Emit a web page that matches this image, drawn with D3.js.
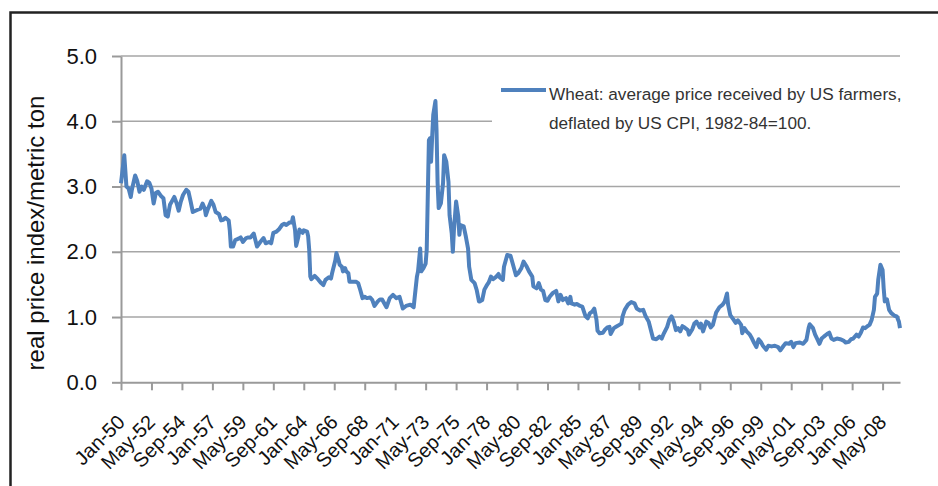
<!DOCTYPE html>
<html lang="en">

<head>
    <meta charset="utf-8">
    <title>Wheat: real price received by US farmers</title>
    <script type="text/javascript" src="https://cdn.jsdelivr.net/npm/d3@7"></script>
    <style type="text/css">
    body {
        margin: 0;
        background: #fff;
    }

    svg {
        display: block;
        font-family: "Liberation Sans", Arial, Helvetica, sans-serif;
    }

    .axis path,
    .axis line {
        stroke: #9a9a9a;
        stroke-width: 2;
    }

    .axis text {
        fill: #111;
    }

    .grid line {
        stroke: #a6a6a6;
        stroke-width: 1.5;
    }

    .legend text {
        font-size: 17.2px;
        fill: #333;
    }
    </style>
</head>

<body>
    <script type="text/javascript">
    //Width and height
    var w = 938,
        h = 486;

    //category labels, one every 28 months starting Jan-50
    var tickLabels = ['Jan-50', 'May-52', 'Sep-54', 'Jan-57', 'May-59', 'Sep-61', 'Jan-64',
        'May-66', 'Sep-68', 'Jan-71', 'May-73', 'Sep-75', 'Jan-78', 'May-80', 'Sep-82',
        'Jan-85', 'May-87', 'Sep-89', 'Jan-92', 'May-94', 'Sep-96', 'Jan-99', 'May-01',
        'Sep-03', 'Jan-06', 'May-08'
    ];
    var tickStep = 28;
    var lastMonth = 716; //Sep-09

    var yTicks = [0, 1, 2, 3, 4, 5];

    //months since Jan-50
    var months = [0, 3, 5, 7, 9, 10, 13, 15, 17, 19, 21, 24, 26, 28, 30, 32, 34, 37, 39, 41,
        43, 45, 47, 49, 51, 53, 55, 57, 60, 62, 64, 66, 70, 73, 75, 77, 78, 80, 83, 85,
        87, 90, 92, 94, 96, 99, 100, 101, 103, 105, 108, 110, 112, 115, 117, 119, 122, 125, 128, 131,
        133, 136, 138, 140, 143, 145, 148, 150, 152, 155, 157, 158, 160, 161, 163, 164, 167, 168, 171, 172,
        173, 174, 175, 178, 181, 184, 186, 188, 191, 193, 194, 197, 198, 200, 201, 203, 204, 206, 207, 209,
        210, 213, 216, 218, 220, 222, 224, 226, 229, 231, 233, 236, 238, 240, 244, 247, 250, 253, 256, 259,
        262, 266, 269, 270, 272, 273, 275, 276, 278, 280, 281, 283, 284, 285, 286, 287, 289, 290, 291, 292,
        294, 296, 297, 299, 301, 302, 304, 305, 306, 308, 310, 311, 312, 315, 317, 319, 320, 322, 325, 327,
        329, 330, 332, 334, 336, 338, 340, 342, 345, 347, 348, 351, 352, 355, 358, 360, 363, 365, 368, 370,
        373, 375, 378, 379, 382, 384, 386, 388, 390, 392, 394, 397, 400, 402, 404, 406, 409, 411, 413, 414,
        417, 419, 422, 424, 427, 429, 431, 433, 435, 437, 438, 440, 443, 445, 447, 449, 450, 453, 455, 458,
        460, 461, 463, 466, 469, 472, 474, 477, 480, 482, 485, 487, 489, 492, 495, 497, 499, 502, 504, 506,
        508, 510, 512, 514, 516, 518, 521, 522, 525, 527, 529, 532, 533, 535, 538, 540, 542, 544, 547, 550,
        553, 555, 557, 558, 560, 563, 565, 567, 570, 571, 573, 575, 578, 580, 582, 584, 586, 588, 590, 593,
        595, 598, 601, 604, 606, 609, 611, 614, 616, 618, 620, 624, 627, 630, 632, 633, 636, 638, 640, 642,
        644, 646, 649, 651, 653, 655, 658, 661, 664, 666, 669, 671, 673, 676, 678, 680, 682, 684, 686, 688,
        690, 692, 693, 695, 696, 698, 700, 701, 702, 704, 706, 708, 711, 713, 715, 716
    ];

    //real price index per metric ton
    var prices = [3.05, 3.48, 3.00, 2.97, 2.84, 2.95, 3.17, 3.08, 2.92, 3.00, 2.95, 3.08, 3.06, 2.97, 2.74, 2.90, 2.92, 2.85, 2.82, 2.56,
        2.54, 2.72, 2.78, 2.84, 2.75, 2.63, 2.77, 2.87, 2.95, 2.92, 2.77, 2.61, 2.64, 2.66, 2.74, 2.66, 2.56, 2.66, 2.78, 2.72,
        2.61, 2.58, 2.48, 2.49, 2.52, 2.48, 2.33, 2.08, 2.08, 2.18, 2.20, 2.22, 2.15, 2.21, 2.22, 2.22, 2.28, 2.08, 2.15, 2.21,
        2.13, 2.15, 2.13, 2.29, 2.31, 2.34, 2.41, 2.43, 2.41, 2.45, 2.45, 2.53, 2.33, 2.09, 2.23, 2.34, 2.29, 2.33, 2.31, 2.24,
        2.03, 1.62, 1.58, 1.63, 1.58, 1.52, 1.49, 1.57, 1.61, 1.59, 1.67, 1.87, 1.98, 1.87, 1.80, 1.77, 1.70, 1.75, 1.70, 1.67,
        1.54, 1.54, 1.54, 1.52, 1.41, 1.29, 1.31, 1.29, 1.30, 1.26, 1.17, 1.24, 1.27, 1.27, 1.15, 1.29, 1.34, 1.29, 1.31, 1.13,
        1.17, 1.19, 1.15, 1.31, 1.62, 1.70, 2.05, 1.70, 1.75, 1.82, 2.03, 3.71, 3.74, 3.38, 3.76, 4.10, 4.31, 3.87, 3.05, 2.67,
        2.74, 3.05, 3.48, 3.38, 3.07, 2.56, 2.28, 2.00, 2.33, 2.77, 2.54, 2.26, 2.41, 2.39, 2.23, 2.05, 1.77, 1.57, 1.52, 1.41,
        1.24, 1.24, 1.26, 1.42, 1.48, 1.53, 1.62, 1.58, 1.62, 1.66, 1.61, 1.57, 1.77, 1.95, 1.94, 1.82, 1.64, 1.67, 1.75, 1.85,
        1.77, 1.70, 1.62, 1.47, 1.44, 1.52, 1.42, 1.40, 1.26, 1.25, 1.31, 1.37, 1.40, 1.24, 1.34, 1.26, 1.29, 1.21, 1.31, 1.21,
        1.19, 1.20, 1.17, 1.16, 1.01, 0.98, 1.06, 1.08, 1.13, 0.96, 0.79, 0.75, 0.76, 0.81, 0.84, 0.85, 0.74, 0.83, 0.85, 0.88,
        0.90, 1.01, 1.11, 1.19, 1.23, 1.21, 1.13, 1.10, 1.11, 1.02, 0.93, 0.80, 0.67, 0.66, 0.70, 0.67, 0.75, 0.85, 0.96, 1.01,
        0.93, 0.80, 0.83, 0.78, 0.86, 0.84, 0.80, 0.73, 0.81, 0.90, 0.93, 0.84, 0.90, 0.78, 0.93, 0.91, 0.84, 0.88, 1.07, 1.15,
        1.19, 1.24, 1.36, 1.19, 1.03, 0.96, 0.91, 0.95, 0.88, 0.75, 0.83, 0.78, 0.73, 0.67, 0.60, 0.54, 0.66, 0.62, 0.56, 0.50,
        0.56, 0.55, 0.56, 0.54, 0.49, 0.56, 0.60, 0.59, 0.62, 0.54, 0.60, 0.61, 0.59, 0.65, 0.83, 0.89, 0.83, 0.73, 0.66, 0.59,
        0.67, 0.70, 0.74, 0.76, 0.67, 0.65, 0.67, 0.66, 0.64, 0.61, 0.62, 0.66, 0.67, 0.73, 0.70, 0.76, 0.84, 0.83, 0.86, 0.88,
        0.96, 1.11, 1.31, 1.36, 1.57, 1.80, 1.72, 1.44, 1.24, 1.27, 1.11, 1.06, 1.02, 1.01, 0.93, 0.83
    ];

    var legendLines = ['Wheat: average price received by US farmers,',
        'deflated by US CPI, 1982-84=100.'
    ];
    var yTitle = 'real price index/metric ton';

    //plot area
    var plot = { left: 121, right: 900, top: 56, bottom: 382.3 };

    //scales
    var x = d3.scaleLinear()
        .domain([0, lastMonth])
        .range([plot.left, plot.right]);

    var y = d3.scaleLinear()
        .domain([0, 5])
        .range([plot.bottom, plot.top]);

    //create svg
    var svg = d3.select('body')
        .append('svg')
        .attr('width', w)
        .attr('height', h);

    //outer frame (runs off the right and bottom edges)
    svg.append('rect')
        .attr('x', 10.5)
        .attr('y', 12.5)
        .attr('width', 1000)
        .attr('height', 1000)
        .attr('fill', 'none')
        .attr('stroke', '#222')
        .attr('stroke-width', 2.5);

    //gridlines
    svg.append('g')
        .attr('class', 'grid')
        .selectAll('line')
        .data(yTicks.slice(1))
        .enter()
        .append('line')
        .attr('x1', plot.left)
        .attr('x2', plot.right)
        .attr('y1', function(d) { return y(d); })
        .attr('y2', function(d) { return y(d); });

    //y axis
    var yAxis = d3.axisLeft(y)
        .tickValues(yTicks)
        .tickFormat(d3.format('.1f'))
        .tickSize(9)
        .tickSizeOuter(0)
        .tickPadding(15);

    var gy = svg.append('g')
        .attr('class', 'axis')
        .attr('transform', 'translate(' + plot.left + ',0)')
        .call(yAxis);
    gy.selectAll('text')
        .style('font-size', '22px');

    //x axis, a tick every 28 months
    var xAxis = d3.axisBottom(x)
        .tickValues(tickLabels.map(function(d, i) { return i * tickStep; }))
        .tickFormat(function(d, i) { return tickLabels[i]; })
        .tickSize(8)
        .tickSizeOuter(0);

    var gx = svg.append('g')
        .attr('class', 'axis')
        .attr('transform', 'translate(0,' + plot.bottom + ')')
        .call(xAxis);
    gx.selectAll('text')
        .attr('x', 0)
        .attr('y', 0)
        .attr('dy', 0)
        .attr('transform', 'translate(4.5,41) rotate(-45)')
        .style('text-anchor', 'end')
        .style('font-size', '20px');

    //y axis title
    svg.append('text')
        .attr('transform', 'translate(44,233) rotate(-90)')
        .attr('text-anchor', 'middle')
        .style('font-size', '24px')
        .attr('fill', '#111')
        .text(yTitle);

    //legend box, covers the 4.0 gridline
    var legend = svg.append('g')
        .attr('class', 'legend');

    legend.append('rect')
        .attr('x', 492)
        .attr('y', 66)
        .attr('width', plot.right - 492)
        .attr('height', 100)
        .attr('fill', '#fff');

    legend.append('line')
        .attr('x1', 501)
        .attr('x2', 546)
        .attr('y1', 90)
        .attr('y2', 90)
        .attr('stroke', '#4f81bd')
        .attr('stroke-width', 4);

    legend.selectAll('text')
        .data(legendLines)
        .enter()
        .append('text')
        .attr('x', 549)
        .attr('y', function(d, i) { return 99.5 + i * 29.5; })
        .text(function(d) { return d; });

    //the line
    var line = d3.line()
        .x(function(d) { return x(d[0]); })
        .y(function(d) { return y(d[1]); });

    svg.append('path')
        .datum(d3.zip(months, prices))
        .attr('d', line)
        .attr('fill', 'none')
        .attr('stroke', '#4f81bd')
        .attr('stroke-width', 4)
        .attr('stroke-linejoin', 'round');
    </script>
</body>

</html>
